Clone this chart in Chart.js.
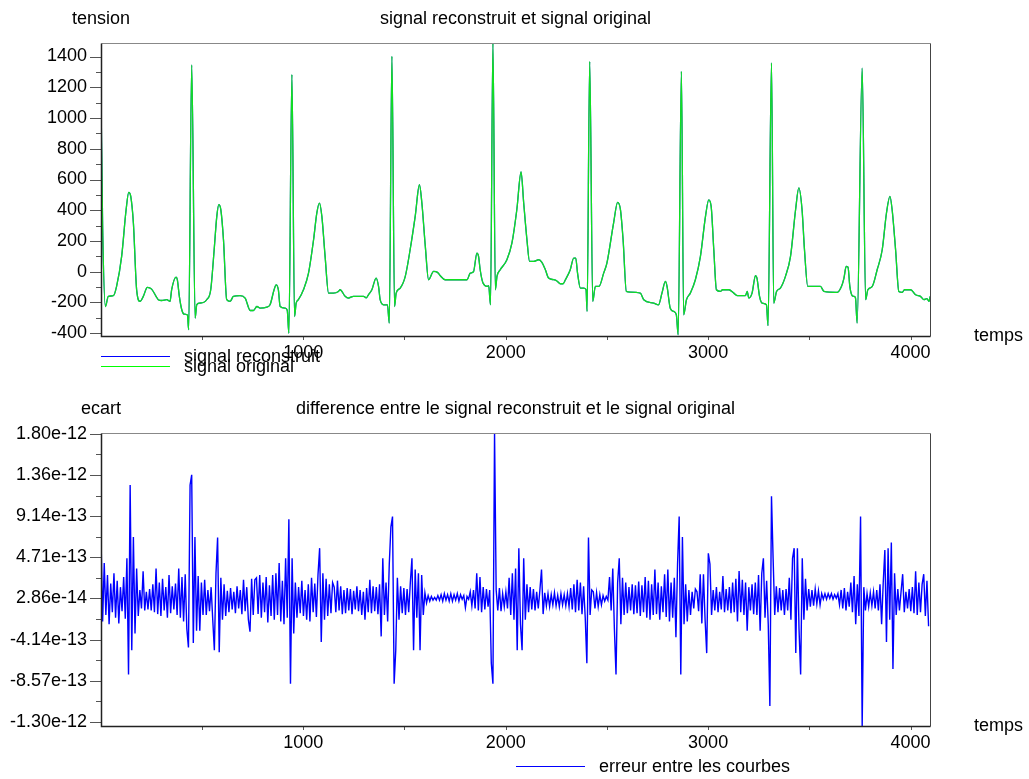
<!DOCTYPE html>
<html>
<head>
<meta charset="utf-8">
<script src="https://cdn.jsdelivr.net/npm/chart.js@4.4.1/dist/chart.umd.min.js"></script>
<style>
  body { margin: 0; background: #fff; }
  canvas { display: block; }
</style>
</head>
<body>
<canvas id="sigChart" width="1029" height="390"></canvas>
<canvas id="errChart" width="1029" height="389"></canvas>
<script>
// signal (ECG) key points : sample index / tension
const sigT = [0, 8, 22, 36, 61, 77, 102, 124, 137, 147, 160, 176, 193, 209, 229, 250, 272, 283, 300, 325,
  341, 349, 371, 377, 387, 399, 410, 427, 433, 448, 465, 473, 486, 506, 522, 542, 559, 572, 582, 592,
  605, 621, 638, 654, 687, 712, 737, 753, 770, 786, 819, 835, 855, 865, 876, 885, 910, 920, 928, 943,
  956, 964, 975, 1000, 1025, 1050, 1066, 1079, 1091, 1107, 1124, 1148, 1173, 1181, 1206, 1222, 1247, 1297, 1310, 1321,
  1338, 1359, 1371, 1379, 1396, 1415, 1424, 1437, 1450, 1458, 1478, 1503, 1527, 1552, 1573, 1585, 1602, 1618, 1643, 1662,
  1676, 1700, 1808, 1824, 1840, 1857, 1865, 1873, 1887, 1907, 1915, 1924, 1936, 1948, 1956, 1972, 2005, 2030, 2054, 2075,
  2088, 2104, 2117, 2137, 2162, 2178, 2195, 2211, 2236, 2252, 2269, 2282, 2294, 2318, 2335, 2345, 2354, 2368, 2385, 2396,
  2401, 2414, 2429, 2442, 2460, 2483, 2499, 2532, 2552, 2566, 2579, 2595, 2615, 2664, 2681, 2730, 2754, 2771, 2788, 2796,
  2812, 2829, 2842, 2851, 2867, 2878, 2892, 2911, 2936, 2961, 2986, 3002, 3014, 3027, 3040, 3060, 3070, 3101, 3126, 3144,
  3183, 3192, 3200, 3216, 3233, 3240, 3253, 3266, 3287, 3295, 3312, 3323, 3337, 3356, 3381, 3406, 3431, 3447, 3463, 3475,
  3491, 3554, 3571, 3637, 3658, 3670, 3681, 3690, 3699, 3711, 3720, 3727, 3735, 3760, 3777, 3788, 3810, 3834, 3859, 3880,
  3897, 3908, 3925, 3941, 3958, 3969, 3999, 4024, 4048, 4065, 4080, 4090, 4096];
const sigV = [1140, 300, -226, -160, -156, -95, 100, 403, 516, 490, 317, -117, -193, -160, -102, -113, -160, -182, -187, -182,
  -193, -117, -35, -52, -160, -247, -275, -282, -377, 1345, -301, -215, -204, -200, -182, -117, 143, 360, 436, 403,
  208, -182, -193, -160, -156, -171, -252, -252, -226, -237, -230, -215, -117, -85, -117, -226, -237, -250, -400, 1282,
  -291, -204, -182, -117, -9, 208, 382, 447, 360, 100, -139, -139, -128, -117, -160, -171, -160, -160, -170, -150,
  -117, -41, -95, -182, -215, -215, -334, 1401, -226, -139, -106, -30, 143, 360, 566, 447, 165, -52, 2, -4,
  -26, -52, -52, -9, 0, 121, 100, 13, -74, -95, -90, -215, 1488, -117, -30, 13, 78, 187, 403, 649,
  447, 208, 67, 67, 78, 61, 13, -41, -52, -60, -78, -78, -52, 13, 89, 89, -9, -106, -106, -117,
  -258, 1368, -193, -95, -95, -9, 56, 317, 451, 403, 208, -128, -132, -139, -182, -204, -215, -139, -63, -95,
  -237, -258, -280, -410, 1303, -280, -182, -139, -52, 100, 360, 468, 425, 143, -117, -128, -117, -117, -139, -156,
  -156, -128, -171, -139, -26, -40, -160, -204, -215, -351, 1358, -204, -128, -106, -30, 100, 403, 545, 403, 143,
  -95, -95, -128, -134, -95, -41, 35, 30, -95, -156, -160, -171, -334, 1325, -182, -117, -95, 13, 143, 382,
  490, 403, 143, -128, -134, -117, -117, -150, -160, -182, -175, -193, -160];

// ecart entre les courbes, one value every errStep samples, in units of 1e-13
const errStep = 8;
const errV = [
  6.9, -2.2, 4.1, -1.5, 2.8, -2.5, 1.9, -1.2, 3.0, -1.8, 2.2, -2.4, 1.5, -1.1, 2.6, -1.9,
  4.6, -7.9, 12.5, -5.3, 6.9, -3.5, 3.5, -1.6, 1.2, -0.8, 3.2, -1.0, 1.0, -0.9, 1.3, -1.0,
  1.8, -1.2, 3.5, -1.4, 2.0, -1.6, 2.4, -1.0, 1.5, -1.8, 2.8, -1.3, 1.6, -0.9, 1.9, -1.5,
  3.5, -1.8, 2.6, -2.2, 2.9, -3.0, -5.0, 12.5, 13.6, -4.5, 6.9, -3.2, 2.7, -3.2, 2.0, -1.5,
  2.3, -1.5, 1.2, -1.1, 1.5, -2.0, -5.3, 3.0, 6.85, -5.5, 2.5, -2.0, 1.8, -1.6, 1.1, -1.2,
  1.4, -0.9, 1.0, -1.3, 1.6, -0.8, 1.2, -1.4, 2.3, -1.1, 1.5, -2.0, -3.3, 2.4, -1.5, 2.3,
  2.5, -1.4, 2.8, -1.8, 2.0, -1.2, 2.6, -2.3, 1.7, -1.6, 2.8, -2.0, 3.0, -1.5, 4.1, -2.2,
  2.2, -2.5, 4.6, -1.8, 8.8, -8.9, 4.6, -3.5, 2.0, -1.8, 1.5, -1.3, 2.2, -1.6, 1.2, -2.0,
  1.8, -2.2, 2.5, -1.2, 1.9, -1.7, 2.9, 5.7, -4.4, 3.0, -2.0, 2.4, -1.6, 1.8, -1.3, 2.0,
  1.5, -1.2, 2.2, -1.0, 1.6, -1.4, 1.2, -1.3, 1.4, -1.0, 1.3, -1.4, 1.1, -0.9, 1.6, -1.1,
  1.2, -1.5, 1.0, -2.0, 1.4, -1.2, 2.3, -1.3, 1.6, -1.1, 1.5, -1.4, 1.8, -3.8, 4.6, -1.5,
  2.0, -2.2, 4.0, 8.0, 9.1, -8.9, -5.3, 2.5, -2.0, 1.6, -1.3, 1.4, -1.5, 1.3, -1.2, 2.0,
  4.6, -5.3, 3.4, -1.8, 3.0, -5.3, 2.8, -1.5, 0.9, -0.2, 0.6, 0.0, 0.5, 0.1, 0.4, 0.1,
  0.6, 0.1, 0.7, 0.0, 0.8, 0.1, 0.7, 0.0, 0.8, 0.0, 0.7, 0.1, 0.8, 0.0, 0.7, 0.2,
  0.6, -0.7, 0.5, 0.2, 1.0, -0.5, 1.2, -0.8, 3.0, -1.0, 2.6, -1.2, 1.5, -0.9, 1.3, -0.6,
  1.2, -6.7, -8.9, 18.1, 1.2, -1.0, 1.4, -1.1, 0.8, -0.6, 1.0, -0.8, 2.5, -1.5, 3.0, -2.0,
  3.5, -5.3, 5.7, -2.5, -5.3, 4.6, -2.0, 1.8, -1.2, 1.5, -0.9, 1.3, -1.0, 1.0, -0.8, 1.2,
  3.4, -1.4, 0.9, -0.5, 0.8, -0.6, 0.7, -0.4, 0.9, -0.5, 0.6, -0.6, 0.8, -0.4, 0.7, -0.5,
  0.8, -0.6, 1.4, -0.9, 1.8, -1.2, 2.3, -1.0, 2.0, -1.4, 1.6, -1.8, -6.7, 6.85, -1.5, 1.2,
  1.0, -0.8, 0.9, -0.6, 0.7, -0.4, 0.6, 0.0, 0.5, 0.1, 2.6, -1.0, 3.5, -3.0, -7.9, 2.0,
  4.6, -2.5, 2.5, -1.5, 2.0, -1.3, 1.5, -1.0, 1.8, -1.4, 1.7, -1.3, 2.1, -1.6, 1.7, -1.2,
  2.6, -1.8, 2.2, -2.0, 1.8, -1.5, 3.4, -1.4, 2.0, -2.0, 1.6, -1.2, 2.9, -1.7, 3.4, -2.2,
  2.0, -1.8, 2.5, -3.9, 4.0, 9.1, -7.9, 6.9, -2.5, 1.8, -2.2, 1.2, -1.5, 1.0, -0.8, 1.3,
  1.0, -1.1, 2.9, -2.4, 2.9, -2.0, -5.6, 5.15, 4.0, -1.5, 1.2, -1.0, 1.5, -1.2, 1.0, -0.9,
  2.7, -1.2, 1.3, -1.0, 1.5, -1.3, 2.0, -1.2, 2.4, -2.2, 3.25, -1.2, 2.3, -1.5, 2.0, -3.2,
  1.5, -1.0, 1.8, -1.4, 2.0, -1.5, 2.8, -3.2, 3.0, 4.6, -1.8, 2.2, -2.5, -11.3, 11.3, 4.6,
  -1.5, 1.6, -1.2, 1.4, -1.0, 1.2, -1.5, 1.3, -1.0, 2.5, -2.0, 4.6, 5.7, -5.6, 5.7, -3.0,
  -7.9, 4.6, -2.0, 2.4, -1.0, 1.3, -0.6, 1.2, -0.5, 1.3, -0.3, 1.1, -0.4, 0.8, 0.2, 0.8,
  0.2, 0.8, 0.3, 0.8, 0.2, 0.7, 0.3, 0.8, -0.4, 1.2, -0.8, 1.4, -1.0, 1.0, -0.6, 2.0,
  -1.2, 2.7, -2.5, 1.8, -1.6, 9.1, -13.45, 1.5, -1.0, 0.8, -0.6, 0.9, -0.5, 1.0, -0.8, 1.2,
  -1.0, 1.8, -2.5, 2.0, 5.5, -4.4, 5.7, -2.0, 6.3, -7.3, 3.0, -1.5, 1.3, -1.0, 1.0, 2.9,
  -1.2, 1.0, -0.8, 1.3, -1.1, 1.5, -1.3, 3.2, -1.5, 2.0, -1.2, 1.8, 2.9, -1.6, 2.2, -2.7
];

// axes
const xTicks = [1000, 2000, 3000, 4000];
const xMinor = [500, 1500, 2500, 3500];
const sigYTicks = [-400, -200, 0, 200, 400, 600, 800, 1000, 1200, 1400];
const sigYMinor = [-300, -100, 100, 300, 500, 700, 900, 1100, 1300];
const errYTicks = [1.80e-12, 1.3571e-12, 9.143e-13, 4.714e-13, 2.86e-14, -4.143e-13, -8.571e-13, -1.30e-12];
const errYLabels = ['1.80e-12', '1.36e-12', '9.14e-13', '4.71e-13', '2.86e-14', '-4.14e-13', '-8.57e-13', '-1.30e-12'];

const FONT = '"Liberation Sans", Arial, Helvetica, sans-serif';

// frame, tick marks, axis names, titles and legend (drawn like the original plot)
const framePlugin = {
    id: 'frame',
    afterDraw(chart, args, o) {
        const { ctx, chartArea: a, scales: { x, y } } = chart;
        ctx.save();
        ctx.lineWidth = 1;
        ctx.strokeStyle = '#555';
        ctx.beginPath();
        o.yMajor.forEach(v => {
            const py = Math.round(y.getPixelForValue(v)) + 0.5;
            ctx.moveTo(a.left - 11, py); ctx.lineTo(a.left, py);
        });
        o.yMinor.forEach(v => {
            const py = Math.round(y.getPixelForValue(v)) + 0.5;
            ctx.moveTo(a.left - 5, py); ctx.lineTo(a.left, py);
        });
        xTicks.concat(xMinor).forEach(v => {
            const px = Math.round(x.getPixelForValue(v)) + 0.5;
            ctx.moveTo(px, a.bottom); ctx.lineTo(px, a.bottom + 4);
        });
        ctx.stroke();

        // box
        const l = Math.round(a.left) + 0.5, r = Math.round(a.right) + 0.5;
        const t = Math.round(a.top) + 0.5, b = Math.round(a.bottom) + 0.5;
        ctx.strokeStyle = '#888';
        ctx.beginPath(); ctx.moveTo(l, t); ctx.lineTo(r, t); ctx.stroke();
        ctx.strokeStyle = '#444';
        ctx.beginPath(); ctx.moveTo(r, t); ctx.lineTo(r, b); ctx.stroke();
        ctx.strokeStyle = '#222';
        ctx.lineWidth = 1.5;
        ctx.beginPath(); ctx.moveTo(l, t); ctx.lineTo(l, b); ctx.lineTo(r, b); ctx.stroke();

        // texts
        ctx.fillStyle = '#000';
        ctx.font = '18px ' + FONT;
        ctx.textBaseline = 'middle';
        ctx.textAlign = 'center';
        ctx.fillText(o.yName, a.left, 19);
        ctx.fillText(o.title, (a.left + a.right) / 2, 19);
        ctx.textAlign = 'left';
        ctx.fillText('temps', 974, a.bottom);

        // legend
        o.legend.forEach(item => {
            ctx.strokeStyle = item.color;
            ctx.lineWidth = 1;
            ctx.beginPath();
            ctx.moveTo(item.x0, item.y + 0.5); ctx.lineTo(item.x0 + 69, item.y + 0.5);
            ctx.stroke();
            ctx.fillStyle = '#000';
            ctx.fillText(item.text, item.x0 + 83, item.y + 1);
        });
        ctx.restore();
    }
};

function baseOptions(yMin, yMax, yTicks, yLabel, frameOpts, xAxisHeight) {
    return {
        responsive: false,
        animation: false,
        events: [],
        layout: { padding: { left: 0, right: 99, top: 43, bottom: 0 } },
        plugins: {
            legend: { display: false },
            tooltip: { enabled: false },
            frame: frameOpts
        },
        scales: {
            x: {
                type: 'linear',
                min: 1,
                max: 4096,
                grid: { display: false, drawTicks: false },
                border: { display: false },
                afterFit(scale) { scale.height = xAxisHeight; },
                afterBuildTicks(scale) { scale.ticks = xTicks.map(v => ({ value: v })); },
                ticks: {
                    autoSkip: false,
                    maxRotation: 0,
                    padding: 6,
                    color: '#000',
                    font: { family: FONT, size: 18 },
                    callback: v => String(v)
                }
            },
            y: {
                min: yMin,
                max: yMax,
                grid: { display: false, drawTicks: false },
                border: { display: false },
                afterFit(scale) { scale.width = 101; },
                afterBuildTicks(scale) { scale.ticks = yTicks.map(v => ({ value: v })); },
                ticks: {
                    autoSkip: false,
                    padding: 14,
                    color: '#000',
                    font: { family: FONT, size: 18 },
                    callback: yLabel
                }
            }
        }
    };
}

// top chart: signal reconstruit et signal original
const sigPoints = sigT.map((t, i) => ({ x: t + 1, y: sigV[i] }));
new Chart(document.getElementById('sigChart'), {
    type: 'line',
    data: {
        datasets: [
            {
                label: 'signal original',
                data: sigPoints,
                borderColor: '#10e020',
                borderWidth: 1.3,
                pointRadius: 0,
                cubicInterpolationMode: 'monotone'
            },
            {
                label: 'signal reconstruit',
                data: sigPoints,
                borderColor: '#2050e0',
                borderWidth: 1.3,
                pointRadius: 0,
                cubicInterpolationMode: 'monotone'
            }
        ]
    },
    options: baseOptions(-418, 1488, sigYTicks, v => String(v), {
        yMajor: sigYTicks,
        yMinor: sigYMinor,
        yName: 'tension',
        title: 'signal reconstruit et signal original',
        legend: [
            { color: '#0000ff', text: 'signal reconstruit', x0: 101, y: 356 },
            { color: '#00ff00', text: 'signal original', x0: 101, y: 366 }
        ]
    }, 54),
    plugins: [framePlugin]
});

// bottom chart: difference entre le signal reconstruit et le signal original
const errMinor = errYTicks.slice(1).map((v, i) => (v + errYTicks[i]) / 2);
const errPoints = errV.map((v, i) => ({ x: 1 + i * errStep, y: v * 1e-13 }));
new Chart(document.getElementById('errChart'), {
    type: 'line',
    data: {
        datasets: [{
            label: 'erreur entre les courbes',
            data: errPoints,
            borderColor: '#0000ff',
            borderWidth: 1.4,
            pointRadius: 0,
            tension: 0
        }]
    },
    options: baseOptions(-1.345e-12, 1.81e-12, errYTicks, (v, i) => errYLabels[i], {
        yMajor: errYTicks,
        yMinor: errMinor,
        yName: 'ecart',
        title: 'difference entre le signal reconstruit et le signal original',
        legend: [
            { color: '#0000ff', text: 'erreur entre les courbes', x0: 516, y: 376 }
        ]
    }, 53),
    plugins: [framePlugin]
});
</script>
</body>
</html>
